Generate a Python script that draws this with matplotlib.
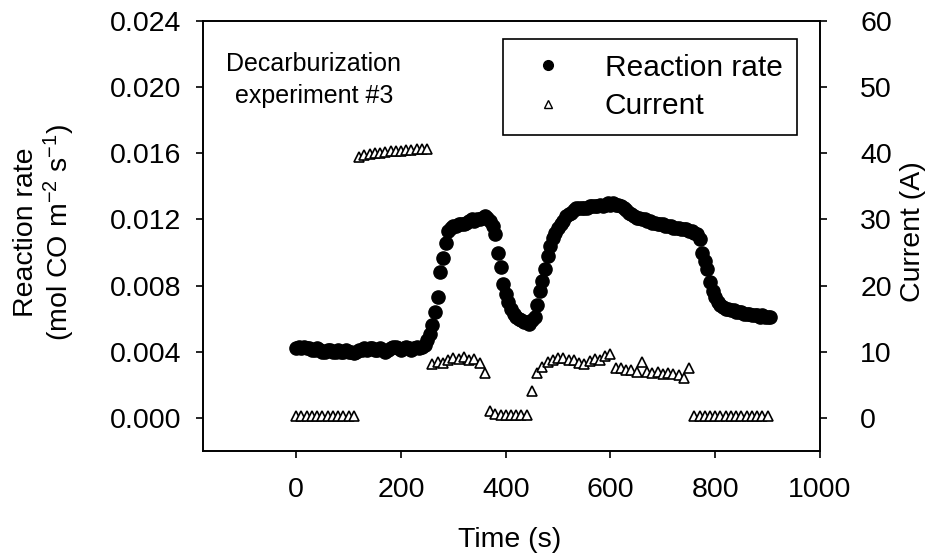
import matplotlib
matplotlib.use("Agg")
import matplotlib.pyplot as plt
from matplotlib.lines import Line2D

plt.rcParams['font.family'] = ['Liberation Sans', 'DejaVu Sans']
plt.rcParams['mathtext.fontset'] = 'custom'
plt.rcParams['mathtext.rm'] = 'Liberation Sans'
plt.rcParams['mathtext.it'] = 'Liberation Sans'
plt.rcParams['mathtext.default'] = 'regular'

# ---- data ----
rate_time = [
    0, 5, 10, 15, 20, 25, 30, 35, 40, 45, 50, 55, 60, 65, 70, 75, 80, 85, 90, 95,
    100, 105, 110, 115, 120, 125, 130, 135, 140, 145, 150, 155, 160, 165, 170, 175, 180, 185, 190, 195,
    200, 205, 210, 215, 220, 225, 230, 235, 240, 245, 250, 255, 260, 265, 270, 275, 280, 285, 290, 295,
    300, 305, 310, 315, 320, 325, 330, 335, 340, 345, 350, 355, 360, 365, 370, 375, 380, 385, 390, 395,
    400, 405, 410, 415, 420, 425, 430, 435, 440, 445, 450, 455, 460, 465, 470, 475, 480, 485, 490, 495,
    500, 505, 510, 515, 520, 525, 530, 535, 540, 545, 550, 555, 560, 565, 570, 575, 580, 585, 590, 595,
    600, 605, 610, 615, 620, 625, 630, 635, 640, 645, 650, 655, 660, 665, 670, 675, 680, 685, 690, 695,
    700, 705, 710, 715, 720, 725, 730, 735, 740, 745, 750, 755, 760, 765, 770, 775, 780, 785, 790, 795,
    800, 805, 810, 815, 820, 825, 830, 835, 840, 845, 850, 855, 860, 865, 870, 875, 880, 885, 890, 895,
    900, 905]
reaction_rate = [
    .0042, .0043, .0042, .0043, .0042, .0042, .0041, .0041, .0042, .0041,
    .0040, .0040, .0041, .0041, .0040, .0040, .0041, .0040, .0040, .0041,
    .0040, .0040, .0039, .0040, .0041, .0041, .0042, .0041, .0042, .0042,
    .0041, .0041, .0042, .0041, .0040, .0041, .0042, .0043, .0043, .0042,
    .0041, .0042, .0043, .0042, .0041, .0042, .0043, .0042, .0043, .0044,
    .0047, .0051, .0056, .0064, .0073, .0088, .0097, .0106, .0113, .0115,
    .0116, .0116, .0117, .0117, .0117, .0118, .0119, .0120, .0119, .0120,
    .0120, .0121, .0122, .0121, .0119, .0116, .0111, .0100, .0091, .0081,
    .0075, .0070, .0066, .0063, .0061, .0060, .0059, .0058, .0058, .0057,
    .0059, .0061, .0068, .0077, .0083, .0090, .0098, .0104, .0109, .0112,
    .0115, .0117, .0119, .0122, .0123, .0124, .0126, .0127, .0127, .0127,
    .0127, .0127, .0128, .0128, .0128, .0128, .0129, .0128, .0129, .0130,
    .0129, .0130, .0129, .0129, .0128, .0127, .0126, .0124, .0123, .0122,
    .0121, .0121, .0120, .0120, .0119, .0119, .0118, .0118, .0117, .0117,
    .0117, .0116, .0116, .0116, .0115, .0115, .0115, .0114, .0114, .0114,
    .0113, .0113, .0112, .0111, .0108, .0100, .0095, .0090, .0082, .0077,
    .0073, .0070, .0068, .0067, .0066, .0066, .0065, .0065, .0064, .0064,
    .0064, .0063, .0063, .0063, .0062, .0062, .0062, .0061, .0062, .0061,
    .0061, .0061]

current_time = [
    0, 10, 20, 30, 40, 50, 60, 70, 80, 90, 100, 110,
    120, 130, 140, 150, 160, 170, 180, 190, 200, 210, 220, 230, 240, 250,
    260, 270, 280, 290, 300, 310, 320, 330, 340, 350, 360,
    370, 380, 390, 400, 410, 420, 430, 440,
    450,
    460, 470, 480, 490, 500, 510, 520, 530, 540, 550, 560, 570, 580, 590, 600,
    610, 620, 630, 640, 650, 660, 670, 680, 690, 700, 710, 720, 730, 740, 750,
    760, 770, 780, 790, 800, 810, 820, 830, 840, 850, 860, 870, 880, 890, 900]
current = [
    0.3, 0.3, 0.3, 0.3, 0.3, 0.3, 0.3, 0.3, 0.3, 0.3, 0.3, 0.3,
    39.5, 39.7, 39.9, 40.0, 40.1, 40.2, 40.3, 40.3, 40.4, 40.5, 40.5, 40.6, 40.6, 40.6,
    8.2, 8.5, 8.3, 8.8, 9.0, 8.9, 9.2, 8.8, 8.9, 8.3, 6.8,
    1.1, 0.6, 0.4, 0.4, 0.4, 0.4, 0.4, 0.4,
    4.0,
    6.8, 7.7, 8.4, 8.8, 9.1, 9.0, 8.8, 8.7, 8.3, 8.2, 8.6, 8.9, 8.8, 9.4, 9.6,
    7.6, 7.5, 7.3, 7.2, 6.9, 8.5, 7.0, 6.8, 6.9, 6.7, 6.8, 6.7, 6.5, 6.1, 7.6,
    0.3, 0.3, 0.3, 0.3, 0.3, 0.3, 0.3, 0.3, 0.3, 0.3, 0.3, 0.3, 0.3, 0.3, 0.3]

x_ticks = [0, 200, 400, 600, 800, 1000]
rate_ticks = [0.000, 0.004, 0.008, 0.012, 0.016, 0.020, 0.024]
current_ticks = [0, 10, 20, 30, 40, 50, 60]

FS = 20.5
W, H = 935, 558
fig = plt.figure(figsize=(W / 100, H / 100), dpi=100)
ax = fig.add_axes([203 / W, 1 - 451 / H, (820 - 203) / W, (451 - 21) / H])
ax2 = ax.twinx()

ax.plot(rate_time, reaction_rate, 'o', color='black', ms=9.5, mec='black',
        linestyle='none', zorder=3)
ax2.plot(current_time, current, '^', mfc='white', mec='black', ms=7.5, mew=1.2,
         linestyle='none', zorder=3)

ax.set_xlim(-178, 1000)
ax.set_ylim(-0.002, 0.024)
ax2.set_ylim(-5, 60)

ax.set_xticks(x_ticks)
ax.set_xticklabels([str(t) for t in x_ticks])
ax.set_yticks(rate_ticks)
ax.set_yticklabels(['%.3f' % v for v in rate_ticks])
ax2.set_yticks(current_ticks)
ax2.set_yticklabels([str(v) for v in current_ticks])

for a in (ax, ax2):
    for sp in a.spines.values():
        sp.set_linewidth(1.2)
ax.tick_params(axis='x', direction='out', length=5, width=1.2, labelsize=FS, pad=14)
ax.tick_params(axis='y', direction='out', length=5, width=1.2, labelsize=FS, pad=10.5)
ax2.tick_params(axis='y', direction='out', length=5, width=1.2, labelsize=FS, pad=24)

fig.text(510 / W, 1 - 540 / H, 'Time (s)', ha='center', va='center', fontsize=FS)
fig.text(45 / W, 1 - 232 / H, 'Reaction rate\n(mol CO m$^{-2}$ s$^{-1}$)',
         ha='center', va='center', rotation=90, fontsize=FS,
         multialignment='center', linespacing=1.1)
fig.text(913 / W, 1 - 232 / H, 'Current (A)', ha='center', va='center',
         rotation=90, fontsize=FS)

ax.text((314 - 203) / 617, (451 - 80) / 430, 'Decarburization\nexperiment #3',
        transform=ax.transAxes, ha='center', va='center', fontsize=18,
        multialignment='center', linespacing=1.4)

handles = [
    Line2D([], [], marker='o', color='black', linestyle='none', ms=7),
    Line2D([], [], marker='^', mfc='white', mec='black', mew=1.0,
           linestyle='none', ms=6),
]
leg = ax2.legend(handles, ['Reaction rate', 'Current'], loc='upper left',
                 bbox_to_anchor=(503 / W, 1 - 39 / H), bbox_transform=fig.transFigure,
                 borderaxespad=0, prop={'size': 21.5}, frameon=True, fancybox=False,
                 edgecolor='black', framealpha=1, borderpad=0.5,
                 labelspacing=0.35, handlelength=2.0, handletextpad=0.9)
leg.get_frame().set_linewidth(1.2)

fig.savefig('out.png', dpi=100)
